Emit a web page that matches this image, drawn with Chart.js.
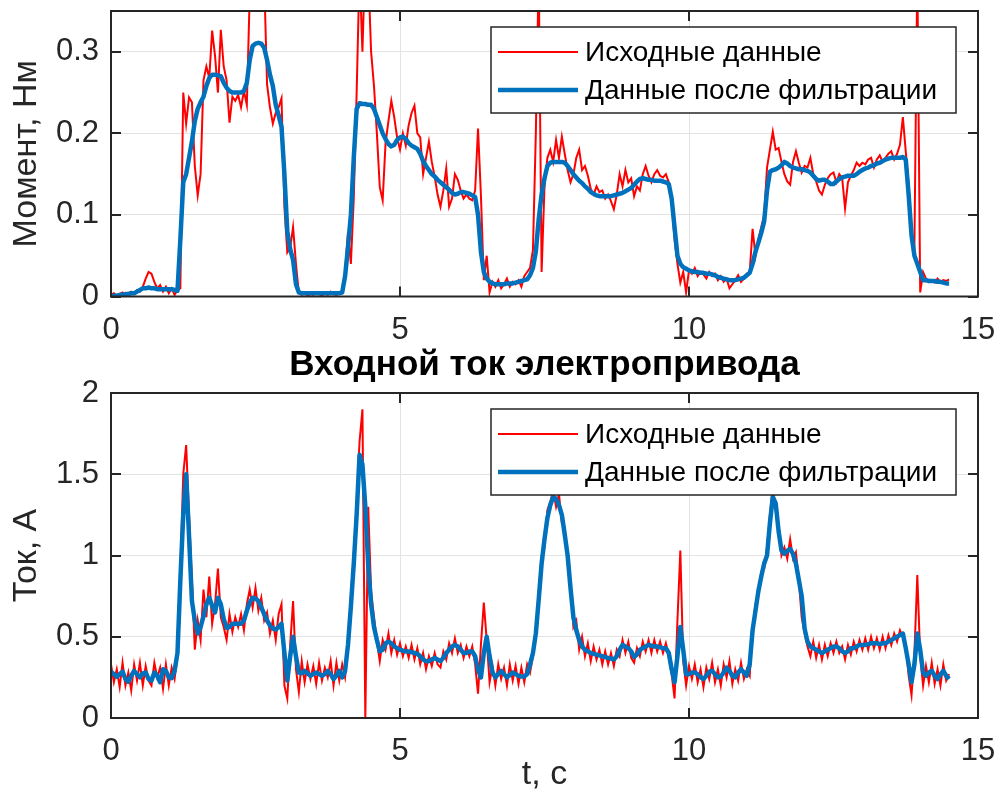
<!DOCTYPE html>
<html>
<head>
<meta charset="utf-8">
<script src="https://cdn.jsdelivr.net/npm/chart.js@4.4.1/dist/chart.umd.min.js"></script>
<style>
  html, body { margin: 0; padding: 0; background: #fff; width: 1000px; height: 789px; overflow: hidden; }
  canvas { position: absolute; left: 0; }
  #torque { top: 0; }
  #current { top: 348px; }
</style>
</head>
<body>
<canvas id="torque" width="1000" height="350"></canvas>
<canvas id="current" width="1000" height="444"></canvas>
<script>
// Sampling step of the recorded signals, seconds
const sampleStep = 0.05;

// Motor torque, N·m (raw measurement)
const torqueRaw = [
  0.002,0.004,0.001,0.003,0.005,0.002,0.004,0.006,0.003,0.008,
  0.006,0.012,0.022,0.030,0.028,0.018,0.010,0.014,0.006,0.012,
  0.004,0.010,0.002,0.008,0.010,0.250,0.212,0.244,0.238,0.160,
  0.124,0.150,0.265,0.282,0.268,0.326,0.295,0.250,0.327,0.282,
  0.265,0.213,0.245,0.240,0.247,0.232,0.252,0.235,0.370,0.380,
  0.360,0.385,0.370,0.390,0.260,0.232,0.212,0.225,0.232,0.243,
  0.110,0.054,0.060,0.085,0.040,0.004,0.002,0.005,0.001,0.003,
  0.002,0.005,0.003,0.001,0.004,0.002,0.006,0.003,0.002,0.004,
  0.004,0.030,0.079,0.040,0.120,0.250,0.400,0.300,0.420,0.400,
  0.300,0.258,0.200,0.134,0.118,0.188,0.215,0.240,0.220,0.195,
  0.180,0.200,0.185,0.210,0.225,0.234,0.200,0.195,0.150,0.170,
  0.190,0.165,0.147,0.125,0.110,0.130,0.157,0.110,0.120,0.150,
  0.143,0.130,0.120,0.125,0.120,0.118,0.130,0.206,0.124,0.020,
  0.050,0.005,0.018,0.012,0.020,0.010,0.015,0.022,0.012,0.018,
  0.015,0.020,0.012,0.025,0.030,0.035,0.057,0.200,0.400,0.030,
  0.135,0.170,0.180,0.165,0.192,0.170,0.196,0.175,0.155,0.140,
  0.150,0.170,0.180,0.155,0.160,0.148,0.132,0.125,0.135,0.128,
  0.130,0.120,0.125,0.117,0.107,0.125,0.150,0.135,0.155,0.140,
  0.145,0.123,0.135,0.130,0.150,0.160,0.148,0.140,0.150,0.155,
  0.148,0.146,0.150,0.140,0.115,0.070,0.040,0.017,0.030,0.005,
  0.032,0.028,0.035,0.025,0.030,0.027,0.022,0.030,0.025,0.028,
  0.020,0.025,0.018,0.022,0.010,0.015,0.020,0.026,0.018,0.022,
  0.028,0.030,0.083,0.050,0.070,0.085,0.100,0.158,0.180,0.202,
  0.180,0.182,0.165,0.150,0.141,0.137,0.165,0.178,0.164,0.152,
  0.160,0.158,0.170,0.150,0.141,0.130,0.125,0.137,0.145,0.150,
  0.152,0.140,0.150,0.145,0.108,0.140,0.148,0.155,0.164,0.160,
  0.164,0.162,0.168,0.170,0.158,0.168,0.173,0.165,0.170,0.175,
  0.178,0.168,0.175,0.186,0.220,0.178,0.137,0.075,0.060,0.400,
  0.005,0.030,0.022,0.018,0.020,0.017,0.022,0.018,0.020,0.019,
  0.021
];

// Motor torque after filtering, N·m
const torqueFiltered = [
  0.000,0.001,0.001,0.002,0.002,0.003,0.003,0.004,0.004,0.006,
  0.008,0.010,0.010,0.011,0.010,0.010,0.009,0.009,0.009,0.009,
  0.009,0.009,0.008,0.007,0.070,0.140,0.150,0.170,0.190,0.215,
  0.230,0.238,0.245,0.258,0.268,0.272,0.272,0.271,0.270,0.262,
  0.256,0.252,0.250,0.250,0.250,0.250,0.252,0.262,0.290,0.307,
  0.310,0.311,0.310,0.305,0.290,0.272,0.258,0.235,0.222,0.208,
  0.150,0.080,0.058,0.045,0.015,0.005,0.004,0.004,0.004,0.004,
  0.004,0.004,0.004,0.004,0.004,0.004,0.004,0.004,0.004,0.004,
  0.005,0.025,0.060,0.100,0.170,0.230,0.237,0.236,0.236,0.235,
  0.235,0.230,0.220,0.210,0.200,0.193,0.187,0.184,0.186,0.192,
  0.195,0.196,0.193,0.188,0.185,0.183,0.181,0.175,0.166,0.160,
  0.155,0.150,0.147,0.143,0.140,0.137,0.134,0.131,0.127,0.125,
  0.126,0.128,0.128,0.127,0.126,0.124,0.122,0.100,0.055,0.030,
  0.022,0.018,0.016,0.015,0.015,0.015,0.015,0.016,0.016,0.016,
  0.017,0.018,0.019,0.020,0.021,0.026,0.035,0.055,0.095,0.125,
  0.145,0.160,0.164,0.165,0.165,0.165,0.165,0.164,0.160,0.155,
  0.150,0.146,0.142,0.139,0.135,0.132,0.128,0.126,0.124,0.123,
  0.123,0.123,0.123,0.123,0.124,0.125,0.126,0.127,0.129,0.131,
  0.133,0.137,0.141,0.144,0.145,0.144,0.143,0.143,0.142,0.142,
  0.142,0.141,0.140,0.138,0.120,0.085,0.050,0.040,0.036,0.034,
  0.032,0.031,0.030,0.030,0.029,0.029,0.028,0.028,0.027,0.026,
  0.024,0.023,0.022,0.021,0.020,0.020,0.020,0.021,0.022,0.023,
  0.026,0.029,0.040,0.055,0.066,0.078,0.092,0.130,0.153,0.155,
  0.156,0.158,0.161,0.165,0.163,0.160,0.158,0.157,0.156,0.156,
  0.155,0.154,0.152,0.148,0.144,0.142,0.143,0.143,0.141,0.138,
  0.138,0.141,0.144,0.146,0.147,0.148,0.148,0.148,0.150,0.153,
  0.155,0.157,0.158,0.160,0.161,0.163,0.164,0.166,0.168,0.169,
  0.170,0.170,0.170,0.170,0.171,0.168,0.125,0.075,0.050,0.040,
  0.030,0.020,0.020,0.019,0.019,0.019,0.018,0.018,0.017,0.016,
  0.016
];

// Drive input current, A (raw measurement)
const currentRaw = [
  0.330,0.220,0.300,0.190,0.340,0.200,0.280,0.170,0.330,0.230,
  0.340,0.200,0.320,0.230,0.200,0.340,0.250,0.310,0.180,0.330,
  0.200,0.310,0.240,0.380,0.900,1.500,1.680,1.250,0.850,0.420,
  0.600,0.480,0.790,0.620,0.870,0.580,0.700,0.920,0.620,0.560,
  0.480,0.640,0.530,0.620,0.560,0.640,0.540,0.700,0.790,0.680,
  0.800,0.660,0.740,0.600,0.650,0.520,0.600,0.480,0.640,0.700,
  0.200,0.120,0.450,0.720,0.300,0.160,0.350,0.220,0.330,0.240,
  0.320,0.210,0.340,0.230,0.310,0.250,0.350,0.200,0.340,0.230,
  0.330,0.250,0.420,0.750,1.000,1.330,1.700,1.900,0.000,1.300,
  0.780,0.620,0.470,0.350,0.480,0.420,0.520,0.400,0.480,0.390,
  0.460,0.380,0.440,0.370,0.450,0.360,0.430,0.330,0.400,0.300,
  0.380,0.320,0.400,0.330,0.310,0.410,0.360,0.460,0.400,0.490,
  0.400,0.450,0.370,0.440,0.380,0.440,0.330,0.150,0.450,0.710,
  0.480,0.220,0.320,0.200,0.330,0.240,0.310,0.200,0.330,0.230,
  0.320,0.210,0.310,0.220,0.330,0.280,0.380,0.520,0.780,1.000,
  1.050,1.280,1.330,1.400,1.300,1.380,1.200,1.170,0.950,0.850,
  0.560,0.600,0.420,0.500,0.380,0.460,0.350,0.440,0.360,0.420,
  0.330,0.410,0.330,0.400,0.320,0.420,0.380,0.480,0.400,0.470,
  0.370,0.340,0.430,0.380,0.470,0.410,0.480,0.400,0.480,0.410,
  0.470,0.400,0.460,0.380,0.270,0.120,0.600,1.030,0.350,0.200,
  0.320,0.240,0.330,0.220,0.300,0.190,0.310,0.240,0.340,0.220,
  0.300,0.200,0.330,0.250,0.350,0.210,0.300,0.230,0.340,0.240,
  0.300,0.260,0.550,0.700,0.760,0.900,0.920,1.050,1.250,1.420,
  1.280,1.180,1.000,1.050,0.980,1.100,0.980,1.020,0.850,0.620,
  0.520,0.440,0.380,0.470,0.370,0.450,0.360,0.450,0.380,0.460,
  0.400,0.470,0.400,0.440,0.360,0.450,0.390,0.470,0.410,0.480,
  0.420,0.490,0.420,0.500,0.430,0.490,0.420,0.500,0.430,0.510,
  0.450,0.520,0.470,0.540,0.500,0.450,0.260,0.140,0.400,0.880,
  0.380,0.200,0.320,0.220,0.340,0.210,0.300,0.200,0.330,0.230,
  0.270
];

// Drive input current after filtering, A
const currentFiltered = [
  0.285,0.270,0.254,0.270,0.285,0.240,0.223,0.260,0.290,0.270,
  0.250,0.275,0.280,0.240,0.230,0.280,0.260,0.220,0.300,0.290,
  0.250,0.245,0.290,0.400,0.850,1.250,1.500,1.120,0.720,0.600,
  0.520,0.560,0.625,0.700,0.740,0.690,0.650,0.740,0.700,0.610,
  0.555,0.560,0.580,0.580,0.580,0.580,0.600,0.660,0.710,0.740,
  0.735,0.720,0.680,0.640,0.600,0.570,0.550,0.545,0.560,0.580,
  0.400,0.230,0.380,0.500,0.380,0.280,0.275,0.290,0.275,0.260,
  0.270,0.280,0.270,0.260,0.270,0.290,0.270,0.240,0.260,0.290,
  0.250,0.290,0.450,0.685,0.950,1.250,1.620,1.560,1.300,0.940,
  0.700,0.560,0.480,0.410,0.420,0.460,0.470,0.460,0.440,0.430,
  0.420,0.415,0.410,0.410,0.405,0.400,0.395,0.380,0.360,0.350,
  0.350,0.360,0.370,0.360,0.350,0.370,0.400,0.420,0.440,0.450,
  0.440,0.420,0.400,0.400,0.410,0.410,0.380,0.300,0.250,0.400,
  0.500,0.380,0.280,0.250,0.270,0.290,0.270,0.250,0.265,0.280,
  0.270,0.260,0.255,0.255,0.270,0.330,0.400,0.520,0.730,0.950,
  1.100,1.230,1.310,1.360,1.350,1.310,1.250,1.130,1.000,0.800,
  0.620,0.540,0.480,0.440,0.420,0.410,0.400,0.395,0.390,0.385,
  0.380,0.375,0.370,0.365,0.360,0.380,0.420,0.450,0.440,0.430,
  0.410,0.375,0.390,0.420,0.430,0.440,0.450,0.445,0.440,0.440,
  0.435,0.430,0.430,0.400,0.300,0.220,0.380,0.560,0.420,0.270,
  0.270,0.280,0.280,0.270,0.250,0.240,0.260,0.285,0.290,0.270,
  0.250,0.255,0.280,0.310,0.290,0.260,0.250,0.280,0.300,0.280,
  0.260,0.330,0.540,0.660,0.780,0.870,0.950,1.000,1.200,1.360,
  1.320,1.150,1.030,1.010,1.030,1.040,1.010,0.950,0.850,0.750,
  0.550,0.470,0.440,0.430,0.420,0.410,0.400,0.410,0.420,0.430,
  0.440,0.440,0.430,0.410,0.400,0.410,0.430,0.430,0.440,0.450,
  0.450,0.450,0.455,0.460,0.460,0.460,0.455,0.460,0.460,0.470,
  0.480,0.490,0.500,0.510,0.520,0.430,0.330,0.220,0.330,0.520,
  0.420,0.280,0.260,0.280,0.290,0.260,0.240,0.270,0.290,0.260,
  0.240
];

// Axis ticks and texts
const timeTicks = [0, 5, 10, 15];
const torqueTicks = [0, 0.1, 0.2, 0.3];
const currentTicks = [0, 0.5, 1, 1.5, 2];
const seriesLabels = ['Исходные данные', 'Данные после фильтрации'];
const torqueAxisTitle = 'Момент, Нм';
const currentAxisTitle = 'Ток, А';
const currentChartTitle = 'Входной ток электропривода';
const timeAxisTitle = 't, с';

// Sample times, s
const time = torqueRaw.map((_, i) => Math.round(i * sampleStep * 100) / 100);

const FONT = '"Liberation Sans", Arial, Helvetica, sans-serif';
const AXIS_COLOR = '#262626';
const GRID_COLOR = '#e3e3e3';
const RAW_COLOR = '#ff0000';
const FILT_COLOR = '#0072bd';

// Box around the plot area with inward tick marks on all four sides
const axesFrame = {
  id: 'axesFrame',
  afterDatasetsDraw(chart) {
    const { ctx, chartArea: a, scales } = chart;
    const tl = 10;
    ctx.save();
    ctx.strokeStyle = AXIS_COLOR;
    ctx.lineWidth = 2;
    ctx.beginPath();
    scales.x.ticks.forEach(t => {
      const px = Math.round(scales.x.getPixelForValue(t.value));
      ctx.moveTo(px, a.bottom); ctx.lineTo(px, a.bottom - tl);
      ctx.moveTo(px, a.top); ctx.lineTo(px, a.top + tl);
    });
    scales.y.ticks.forEach(t => {
      const py = Math.round(scales.y.getPixelForValue(t.value));
      ctx.moveTo(a.left, py); ctx.lineTo(a.left + tl, py);
      ctx.moveTo(a.right, py); ctx.lineTo(a.right - tl, py);
    });
    ctx.stroke();
    ctx.strokeRect(a.left, a.top, a.right - a.left, a.bottom - a.top);
    ctx.restore();
  }
};

// Legend box in the upper right corner of the plot area
const cornerLegend = {
  id: 'cornerLegend',
  afterDraw(chart) {
    const { ctx, chartArea: a } = chart;
    const w = 465, h = 86;
    const left = a.right - 22 - w;
    const top = a.top + 16;
    ctx.save();
    ctx.fillStyle = '#ffffff';
    ctx.fillRect(left, top, w, h);
    ctx.strokeStyle = AXIS_COLOR;
    ctx.lineWidth = 1.5;
    ctx.strokeRect(left, top, w, h);
    const items = chart.data.datasets.slice().sort((p, q) => p.legendRow - q.legendRow);
    items.forEach((ds, i) => {
      const cy = top + 25 + i * 38;
      ctx.strokeStyle = ds.borderColor;
      ctx.lineWidth = ds.borderWidth;
      ctx.beginPath();
      ctx.moveTo(left + 7, cy);
      ctx.lineTo(left + 87, cy);
      ctx.stroke();
      ctx.fillStyle = '#000000';
      ctx.font = '28px ' + FONT;
      ctx.textBaseline = 'middle';
      ctx.textAlign = 'left';
      ctx.fillText(ds.label, left + 94, cy + 1);
    });
    ctx.restore();
  }
};

function series(values) {
  return time.map((t, i) => ({ x: t, y: values[i] }));
}

function tickText(v) {
  return String(Math.round(v * 100) / 100);
}

function makeChart(canvasId, raw, filtered, yTicks, yMax, yTitle, opts) {
  return new Chart(document.getElementById(canvasId), {
    type: 'line',
    data: {
      datasets: [
        { label: seriesLabels[0], data: series(raw), borderColor: RAW_COLOR, borderWidth: 2,
          pointRadius: 0, tension: 0, order: 2, legendRow: 0 },
        { label: seriesLabels[1], data: series(filtered), borderColor: FILT_COLOR, borderWidth: 4.5,
          pointRadius: 0, tension: 0, order: 1, legendRow: 1, borderJoinStyle: 'round' }
      ]
    },
    options: {
      responsive: false,
      animation: false,
      events: [],
      layout: { padding: opts.padding },
      plugins: {
        legend: { display: false },
        tooltip: { enabled: false },
        title: opts.title || { display: false }
      },
      scales: {
        x: {
          type: 'linear', min: 0, max: 15,
          afterBuildTicks: s => { s.ticks = timeTicks.map(v => ({ value: v })); },
          afterFit: s => { s.height = opts.xHeight; s.paddingLeft = 0; s.paddingRight = 0; },
          ticks: { font: { family: FONT, size: 31 }, color: AXIS_COLOR, padding: 15, maxRotation: 0,
                   callback: tickText },
          grid: { color: GRID_COLOR, lineWidth: 1, drawTicks: false },
          border: { display: false },
          title: opts.xTitle || { display: false }
        },
        y: {
          type: 'linear', min: 0, max: yMax,
          afterBuildTicks: s => { s.ticks = yTicks.map(v => ({ value: v })); },
          afterFit: s => { s.width = 111; s.paddingTop = 0; s.paddingBottom = 0; },
          ticks: { font: { family: FONT, size: 31 }, color: AXIS_COLOR, padding: 12,
                   callback: tickText },
          grid: { color: GRID_COLOR, lineWidth: 1, drawTicks: false },
          border: { display: false },
          title: { display: true, text: yTitle, color: AXIS_COLOR,
                   font: { family: FONT, size: 34, lineHeight: 1 }, padding: { top: 10, bottom: 0 } }
        }
      }
    },
    plugins: [axesFrame, cornerLegend]
  });
}

// Torque
makeChart('torque', torqueRaw, torqueFiltered, torqueTicks, 0.35, torqueAxisTitle, {
  padding: { top: 11, right: 22, left: 0, bottom: 0 },
  xHeight: 53.5
});

// Input current
makeChart('current', currentRaw, currentFiltered, currentTicks, 2, currentAxisTitle, {
  padding: { top: 0, right: 22, left: 0, bottom: 0 },
  xHeight: 74,
  title: { display: true, text: currentChartTitle, color: '#000000', fullSize: false,
           font: { family: FONT, size: 35, weight: 'bold', lineHeight: 1 },
           padding: { top: 0, bottom: 10 } },
  xTitle: { display: true, text: timeAxisTitle, color: AXIS_COLOR,
            font: { family: FONT, size: 34, lineHeight: 1 }, padding: { top: 0, bottom: 0 } }
});
</script>
</body>
</html>
